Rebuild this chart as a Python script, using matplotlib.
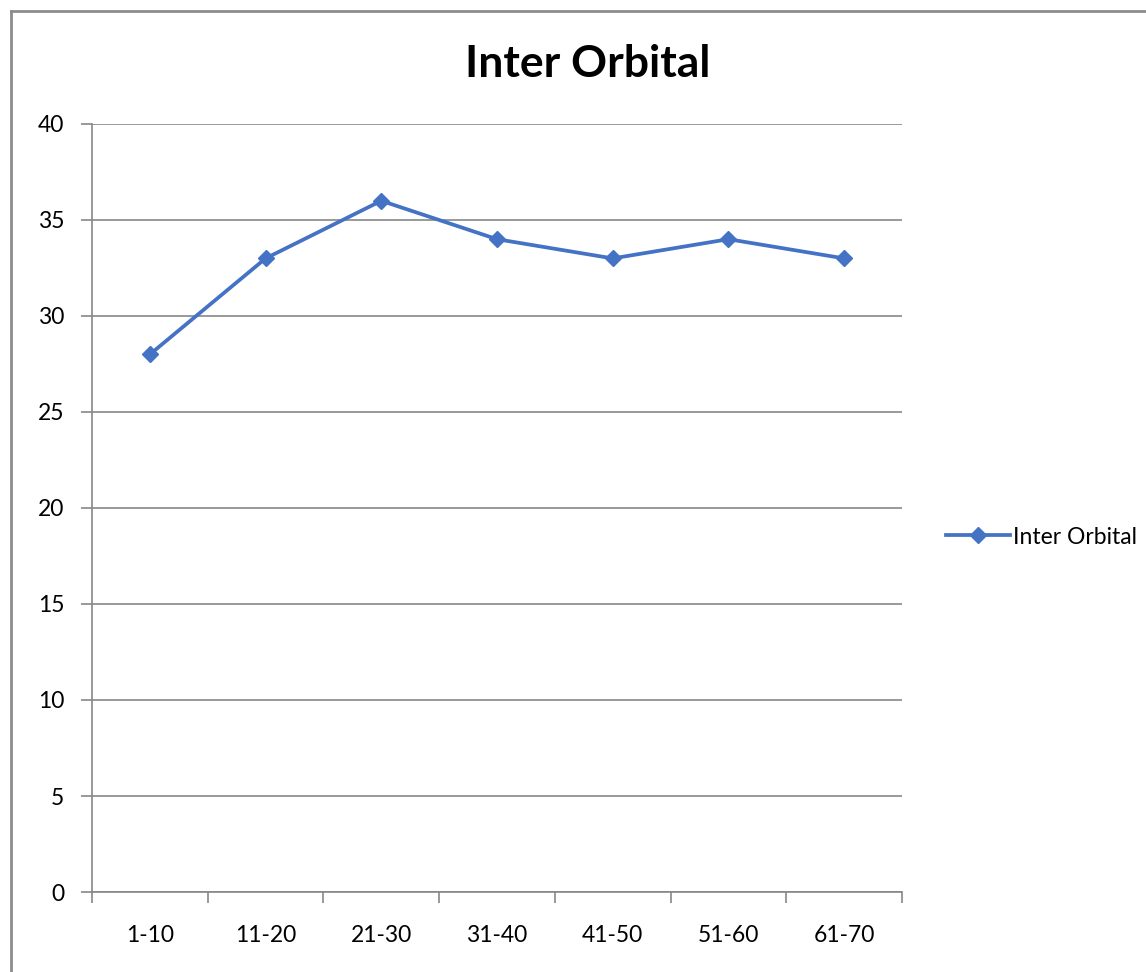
import matplotlib
matplotlib.use("Agg")
import matplotlib.pyplot as plt
from matplotlib.lines import Line2D
import numpy as np

plt.rcParams["font.family"] = ["Lato", "DejaVu Sans"]

categories = ["1-10", "11-20", "21-30", "31-40", "41-50", "51-60", "61-70"]
values = [28, 33, 36, 34, 33, 34, 33]
series_name = "Inter Orbital"
y_ticks = [0, 5, 10, 15, 20, 25, 30, 35, 40]

W, H = 1146, 972
fig = plt.figure(figsize=(W / 100, H / 100), dpi=100)
ax = fig.add_axes([92 / W, 80 / H, 810 / W, 768 / H])

grid_col = "#878787"
x = np.arange(len(categories))
line, = ax.plot(x, values, color="#4472C4", linewidth=2.7, marker="D",
                markersize=8, label=series_name, zorder=3)

ax.set_xlim(-0.5, len(categories) - 0.5)
ax.set_ylim(0, 40)
ax.set_yticks(y_ticks)
ax.set_xticks(x)
ax.set_xticklabels(categories)
ax.set_xticks(np.arange(len(categories) + 1) - 0.5, minor=True)
ax.tick_params(axis="x", which="major", length=0, pad=24, labelsize=16.5)
ax.tick_params(axis="x", which="minor", length=8, color=grid_col, width=1.2)
ax.tick_params(axis="y", length=8, color=grid_col, width=1.2, pad=12, labelsize=16.5)
ax.yaxis.grid(True, color=grid_col, linewidth=1.2)
ax.set_axisbelow(True)
for side in ["top", "right"]:
    ax.spines[side].set_visible(False)
ax.spines["left"].set_color(grid_col)
ax.spines["bottom"].set_color(grid_col)
ax.spines["left"].set_linewidth(1.2)
ax.spines["bottom"].set_linewidth(1.2)

fig.text(588 / W, 1 - 64 / H, series_name, ha="center", va="center",
         fontsize=32, fontweight="bold")

ax.legend(handles=[line], loc="center left", bbox_to_anchor=(925 / W, 1 - 537 / H),
          bbox_transform=fig.transFigure, frameon=False, fontsize=16.5,
          handlelength=2.8, handletextpad=0.15)

# chart-area border (left and top only are visible)
border_col = "#8c8c8c"
fig.add_artist(Line2D([11 / W, 11 / W], [1 - 11 / H, 0], transform=fig.transFigure,
                      color=border_col, linewidth=2))
fig.add_artist(Line2D([11 / W, 1], [1 - 11 / H, 1 - 11 / H], transform=fig.transFigure,
                      color=border_col, linewidth=2))

fig.savefig("out.png", dpi=100)
